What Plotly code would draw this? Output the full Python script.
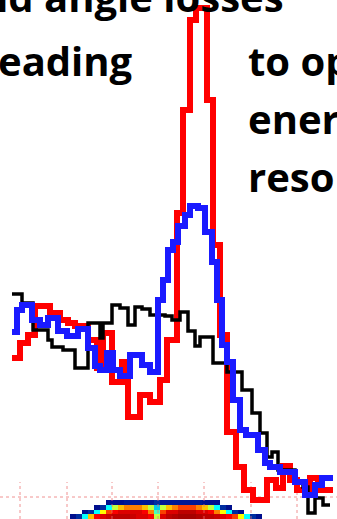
import plotly.graph_objects as go

W, H = 337, 519

# ---- histogram data (x = bin left edges, y = counts; last edge closes the histogram) ----
red_edges = [12, 20, 28, 35, 50, 60, 68, 75, 88, 97, 103, 112, 122, 128, 140, 150, 160, 167, 177, 183,
             190, 196, 207, 213, 220, 227, 236, 244, 253, 267, 276, 283, 290, 297, 310, 318, 333]
red_py = [358, 343, 335, 306, 313, 320, 323, 326, 340, 368, 333, 382, 362, 417, 395, 402, 380, 340, 213, 110,
          20, 8, 100, 245, 335, 432, 467, 490, 500, 480, 488, 466, 480, 490, 478, 490]

black_edges = [12, 22, 33, 48, 52, 63, 75, 88, 100, 103, 112, 120, 128, 135, 142, 150, 165, 172, 180, 188,
               195, 200, 213, 227, 242, 252, 260, 267, 272, 278, 295, 303, 308, 315, 323, 330]
black_py = [294, 303, 330, 340, 347, 350, 368, 323, 338, 323, 305, 308, 325, 307, 309, 315, 316, 320, 312, 331,
            346, 337, 363, 372, 390, 413, 433, 457, 452, 470, 482, 487, 513, 498, 505]

blue_edges = [12, 17, 22, 32, 40, 48, 58, 67, 78, 88, 95, 100, 107, 113, 120, 130, 142, 150, 158, 163,
              168, 173, 178, 185, 190, 198, 205, 212, 217, 222, 227, 233, 240, 246, 258, 265, 270, 280, 295,
              305, 315, 322, 333]
blue_py = [332, 310, 305, 320, 325, 318, 331, 336, 329, 348, 366, 370, 353, 370, 376, 355, 365, 372, 300, 280,
           250, 242, 226, 215, 206, 208, 232, 262, 300, 345, 362, 400, 430, 435, 450, 463, 467, 472, 482,
           495, 485, 478]

# convert picture rows to counts (count axis grows upward)
def to_counts(py):
    return [H - v for v in py]

red_counts = to_counts(red_py)
black_counts = to_counts(black_py)
blue_counts = to_counts(blue_py)

# ---- inset map (bottom) ----
map_x0, map_dx = 70, 6
map_y0, map_dy = 0, 4.75
N = None
map_rows = [  # bottom row first
    [0.5, 1.5, 4, 6.5, 8, 8.5, 8.8, 9, 9, 9, 8.8, 8.5, 8.5, 8, 5.5, 8.5, 9, 9.2, 9.4, 9.4, 9.4, 9.2, 9, 9, 8.8,
     8.5, 8, 7.5, 6, 4, 1.5, 0.5],
    [N, N, 0.5, 1.5, 4, 6, 7.5, 8, 8.5, 8.5, 8.5, 8.5, 8, 7, 4.5, 7.5, 8.5, 8.5, 9, 9, 9, 8.5, 8.5, 8, 7, 6,
     4, 1.5, 0.5, N, N, N],
    [N, N, N, N, 0.5, 1.5, 4, 5.5, 6.5, 7, 7, 7, 6.5, 5.5, 3.5, 5.5, 6.5, 7, 7.5, 7.5, 7.5, 7, 6.5, 5.5, 4,
     1.5, 0.5, N, N, N, N, N],
    [N, N, N, N, N, N, 0.5, 0.5, 0.5, 0.8, 0.8, 0.8, 0.8, 0.8, 1.5, 0.8, 0.8, 0.8, 0.8, 0.8, 0.8, 0.8, 0.5,
     0.5, 0.5, N, N, N, N, N, N, N],
]

grid_x = [20, 67, 112, 158, 204, 251, 297]
grid_h_py = 497
grid_top_py = 482

# ---- slide text ----
texts = [
    ("nd angle losses", 286, 15, "right"),
    ("eading", -4, 79, "left"),
    ("to op", 246, 79, "left"),
    ("ener", 246, 137, "left"),
    ("reso", 246, 195, "left"),
]

fig = go.Figure()

fig.add_trace(go.Heatmap(
    z=map_rows, x0=map_x0 + map_dx / 2, dx=map_dx, y0=map_y0 + map_dy / 2, dy=map_dy,
    colorscale="Jet", zmin=0, zmax=10, showscale=False, hoverinfo="skip"))

grid_color = "rgba(235,110,110,0.75)"
for gx in grid_x:
    fig.add_trace(go.Scatter(x=[gx, gx], y=[0, H - grid_top_py], mode="lines",
                             line=dict(color=grid_color, width=1, dash="dot"), hoverinfo="skip"))
fig.add_trace(go.Scatter(x=[0, W], y=[H - grid_h_py, H - grid_h_py], mode="lines",
                         line=dict(color=grid_color, width=1, dash="dot"), hoverinfo="skip"))

def step(edges, counts, color, width):
    return go.Scatter(x=edges, y=counts + [counts[-1]], mode="lines",
                      line=dict(color=color, width=width, shape="hv"), hoverinfo="skip")

fig.add_trace(step(red_edges, red_counts, "#ff0000", 6))
fig.add_trace(step(black_edges, black_counts, "#000000", 3.5))
fig.add_trace(step(blue_edges, blue_counts, "#1a1aff", 6))

FS = 40
for txt, px, baseline, align in texts:
    fig.add_annotation(text=txt, x=px / W, y=1 - (baseline + 0.27 * FS) / H, xref="paper", yref="paper",
                       xanchor=align, yanchor="bottom", showarrow=False,
                       font=dict(family="Open Sans", size=FS, color="black", weight="bold"))

fig.update_layout(
    width=W, height=H, margin=dict(l=0, r=0, t=0, b=0),
    paper_bgcolor="white", plot_bgcolor="white", showlegend=False,
    xaxis=dict(range=[0, W], visible=False, fixedrange=True),
    yaxis=dict(range=[0, H], visible=False, fixedrange=True),
)

fig.write_html("out.html", config={"displayModeBar": False})
